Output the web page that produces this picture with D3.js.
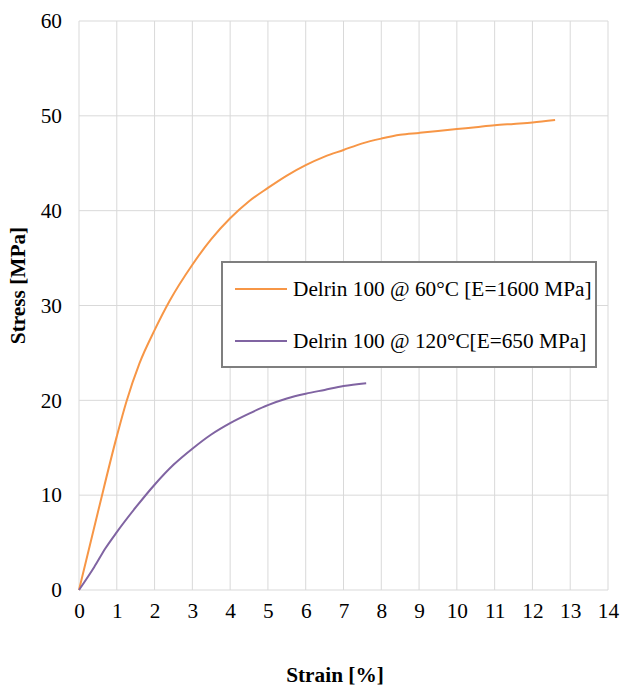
<!DOCTYPE html>
<html>
<head>
<meta charset="utf-8">
<script src="https://cdn.jsdelivr.net/npm/d3@7"></script>
<style>
  body { margin: 0; background: #fff; }
  svg { display: block; font-family: "Liberation Serif", "Times New Roman", serif; }
</style>
</head>
<body>
<div id="chart"></div>
<script>
// ---- Data ----
const strain60 = [0, 0.5, 1.0, 1.25, 1.6, 2.0, 2.4, 3.0, 3.5, 4.0, 4.5, 5.0, 5.5, 6.0, 6.5, 7.0, 7.5, 8.0, 8.5, 9.0, 9.5, 10.0, 10.5, 11.0, 11.5, 12.0, 12.6];
const stress60 = [0, 8.2, 16.2, 19.8, 23.9, 27.4, 30.5, 34.3, 37.0, 39.2, 41.0, 42.4, 43.7, 44.8, 45.7, 46.4, 47.1, 47.6, 48.0, 48.2, 48.4, 48.6, 48.8, 49.0, 49.15, 49.3, 49.55];
const strain120 = [0, 0.4, 0.7, 1.0, 1.5, 2.0, 2.5, 3.0, 3.5, 4.0, 4.5, 5.0, 5.5, 6.0, 6.5, 7.0, 7.6];
const stress120 = [0, 2.4, 4.4, 6.1, 8.7, 11.1, 13.2, 14.9, 16.4, 17.6, 18.6, 19.5, 20.2, 20.7, 21.1, 21.5, 21.8];
const seriesNames = ['Delrin 100 @ 60°C [E=1600 MPa]', 'Delrin 100 @ 120°C[E=650 MPa]'];
const seriesColors = ['#f79646', '#8064a2'];
const xTicks = d3.range(0, 15, 1);
const yTicks = d3.range(0, 61, 10);

const width = 621, height = 685;
const margin = { top: 21, right: 13, bottom: 95, left: 79 };
const innerWidth = width - margin.left - margin.right;
const innerHeight = height - margin.top - margin.bottom;
const fontSize = 21.3;

const svg = d3.select('#chart').append('svg')
  .attr('width', width).attr('height', height);
const g = svg.append('g').attr('transform', `translate(${margin.left},${margin.top})`);

const x = d3.scaleLinear().domain([0, 14]).range([0, innerWidth]);
const y = d3.scaleLinear().domain([0, 60]).range([innerHeight, 0]);

// ---- Grid ----
g.append('g').selectAll('line').data(xTicks).join('line')
  .attr('x1', d => x(d)).attr('x2', d => x(d))
  .attr('y1', 0).attr('y2', innerHeight)
  .attr('stroke', '#d9d9d9').attr('stroke-width', 1);
g.append('g').selectAll('line').data(yTicks).join('line')
  .attr('x1', 0).attr('x2', innerWidth)
  .attr('y1', d => y(d)).attr('y2', d => y(d))
  .attr('stroke', '#d9d9d9').attr('stroke-width', 1);

// ---- Axes ----
g.append('g')
  .attr('transform', `translate(0,${innerHeight})`)
  .call(d3.axisBottom(x).tickValues(xTicks).tickSize(0).tickPadding(13))
  .call(a => a.attr('font-family', null).attr('font-size', fontSize))
  .call(a => a.select('.domain').remove())
  .selectAll('text').attr('fill', '#000');

g.append('g')
  .call(d3.axisLeft(y).tickValues(yTicks).tickSize(0).tickPadding(17))
  .call(a => a.attr('font-family', null).attr('font-size', fontSize))
  .call(a => a.select('.domain').remove())
  .selectAll('text').attr('fill', '#000');

// ---- Lines ----
const line = d3.line().x(d => x(d[0])).y(d => y(d[1])).curve(d3.curveMonotoneX);
const series = [
  d3.zip(strain60, stress60),
  d3.zip(strain120, stress120)
];
g.selectAll('.series').data(series).join('path')
  .attr('class', 'series')
  .attr('d', line)
  .attr('fill', 'none')
  .attr('stroke', (_, i) => seriesColors[i])
  .attr('stroke-width', 2);

// ---- Legend ----
const legend = svg.append('g').attr('transform', 'translate(222,262)');
legend.append('rect')
  .attr('width', 374).attr('height', 105)
  .attr('fill', '#fff').attr('stroke', '#7f7f7f').attr('stroke-width', 2);
seriesNames.forEach((name, i) => {
  const row = legend.append('g').attr('transform', `translate(0,${27 + i * 52})`);
  row.append('line').attr('x1', 13).attr('x2', 65)
    .attr('stroke', seriesColors[i]).attr('stroke-width', 2);
  row.append('text').attr('x', 71).attr('dy', '0.35em')
    .attr('font-size', fontSize).attr('fill', '#000').text(name);
});

// ---- Axis titles ----
svg.append('text')
  .attr('x', 335).attr('y', 682)
  .attr('text-anchor', 'middle').attr('font-weight', 'bold').attr('font-size', fontSize)
  .text('Strain [%]');
svg.append('text')
  .attr('transform', `translate(25,${margin.top + innerHeight / 2 - 20}) rotate(-90)`)
  .attr('text-anchor', 'middle').attr('font-weight', 'bold').attr('font-size', fontSize)
  .text('Stress [MPa]');
</script>
</body>
</html>
